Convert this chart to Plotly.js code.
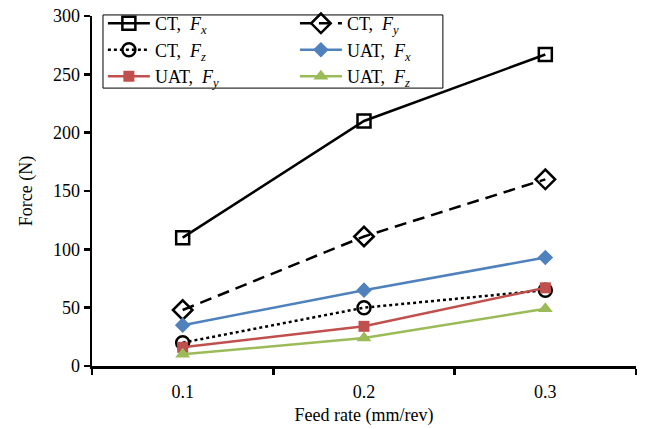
<!DOCTYPE html>
<html>
<head>
<meta charset="utf-8">
<script src="https://cdn.plot.ly/plotly-3.0.1.min.js"></script>
<style>html,body{margin:0;padding:0;background:#fff}#chart{width:645px;height:429px}</style>
</head>
<body>
<div id="chart"></div>
<script>
const feedRates = ["0.1", "0.2", "0.3"];
const seriesNames = ["CT,&nbsp; <i>F</i><sub><i>x</i></sub>", "CT,&nbsp; <i>F</i><sub><i>y</i></sub>", "CT,&nbsp; <i>F</i><sub><i>z</i></sub>",
                     "UAT,&nbsp; <i>F</i><sub><i>x</i></sub>", "UAT,&nbsp; <i>F</i><sub><i>y</i></sub>", "UAT,&nbsp; <i>F</i><sub><i>z</i></sub>"];
const ctFx = [110, 210, 267];
const ctFy = [48, 111, 160];
const ctFz = [20, 50, 65];
const uatFx = [35, 65, 93];
const uatFy = [16, 34, 67];
const uatFz = [10, 24, 49];
const yTicks = [0, 50, 100, 150, 200, 250, 300];

const black = "#000000", blue = "#4F81BD", red = "#C0504D", green = "#9BBB59";
function tr(y, name, color, dash, symbol, size, lw, legend) {
  return {
    x: feedRates, y: y, name: name, type: "scatter", mode: "lines+markers",
    line: {color: color, width: 2.5, dash: dash},
    marker: {symbol: symbol, size: size, color: color, line: {color: color, width: lw}},
    cliponaxis: false, legend: legend
  };
}
const data = [
  tr(ctFx, seriesNames[0], black, "solid", "square-open", 13, 2.5, "legend"),
  tr(ctFy, seriesNames[1], black, "12px,7px", "diamond-open", 15, 2.5, "legend2"),
  tr(ctFz, seriesNames[2], black, "dot", "circle-open", 13, 2.5, "legend"),
  tr(uatFx, seriesNames[3], blue, "solid", "diamond", 12, 0, "legend2"),
  tr(uatFy, seriesNames[4], red, "solid", "square", 11, 0, "legend"),
  tr(uatFz, seriesNames[5], green, "solid", "triangle-up", 13, 0, "legend2")
];

const serif = "Liberation Serif, Times New Roman, serif";
const legendBase = {
  orientation: "v", y: 1.031, xanchor: "left", yanchor: "top",
  bgcolor: "rgba(0,0,0,0)", borderwidth: 0, itemwidth: 42,
  font: {family: serif, size: 18, color: "#000"}, tracegroupgap: 0
};
const layout = {
  width: 645, height: 429,
  margin: {l: 92, r: 9, t: 16, b: 63, autoexpand: false},
  paper_bgcolor: "#fff", plot_bgcolor: "#fff",
  font: {family: serif, size: 18, color: "#000"},
  showlegend: true,
  legend: Object.assign({}, legendBase, {x: 0.02}),
  legend2: Object.assign({}, legendBase, {x: 0.373}),
  shapes: [{
    type: "rect", xref: "paper", yref: "paper", x0: 0.0202, x1: 0.645, y0: 0.794, y1: 1.003,
    line: {color: "#000", width: 1}, fillcolor: "#fff", layer: "above"
  }],
  xaxis: {
    type: "category", range: [-0.5, 2.5], tickson: "boundaries",
    showline: true, linecolor: "#000", linewidth: 2.5,
    ticks: "outside", ticklen: 6, tickwidth: 2.5, tickcolor: "#000",
    ticklabelstandoff: 8,
    showgrid: false, zeroline: false,
    tickfont: {family: serif, size: 18},
    title: {text: "Feed rate (mm/rev)", font: {family: serif, size: 18}, standoff: 8}
  },
  yaxis: {
    range: [0, 300], tickvals: yTicks, ticktext: yTicks.map(String),
    showline: true, linecolor: "#000", linewidth: 2.5,
    ticks: "outside", ticklen: 6, tickwidth: 2.5, tickcolor: "#000",
    showgrid: false, zeroline: false,
    tickfont: {family: serif, size: 18},
    title: {text: "Force (N)", font: {family: serif, size: 18}, standoff: 16}
  }
};
Plotly.newPlot("chart", data, layout, {displayModeBar: false, staticPlot: true});
</script>
</body>
</html>
